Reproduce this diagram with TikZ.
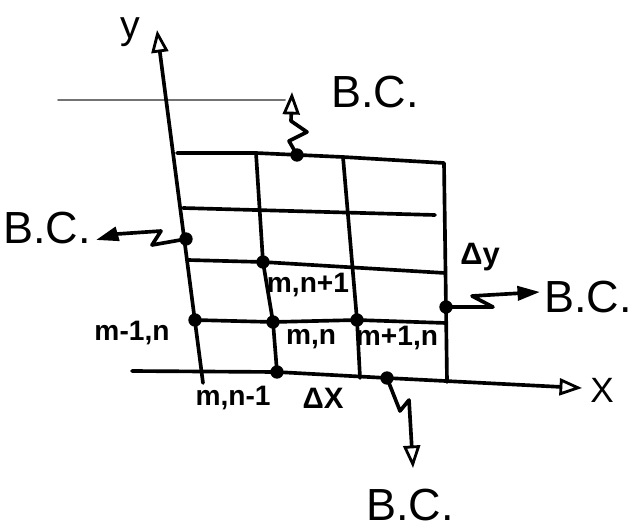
\documentclass[tikz,border=0pt]{standalone}
\usepackage{fontspec}
\setmainfont{Liberation Sans}
\usetikzlibrary{arrows.meta}

\begin{document}
\begin{tikzpicture}[x=0.025cm,y=-0.025cm,line width=2.6pt,line join=round,line cap=round,
    dot/.style={circle,fill=black,inner sep=0pt,minimum size=9.5pt},
    lbl/.style={font=\fontsize{20}{22}\selectfont\bfseries,inner sep=0pt},
    bc/.style={font=\fontsize{32}{34}\selectfont,inner sep=0pt},
    openhead/.style={-{Triangle[open,length=16pt,width=12pt,line width=2pt]}},
    fillhead/.style={-{Triangle[length=16pt,width=10pt]}}]
  \useasboundingbox (0,0) rectangle (635,531);
  % ruling of the sheet
  \draw[black!55,line width=1.4pt] (58,100) -- (285,100);
  % grid points
  \node[dot] (dmnp) at (263,262) {};
  \node[dot] (dmmn) at (195,320) {};
  \node[dot] (dmn) at (273,322) {};
  \node[dot] (dmpn) at (357,320) {};
  \node[dot] (dmnm) at (277,372) {};
  \node[dot] (dbot) at (387,378) {};
  \node[dot] (dleft) at (186,239) {};
  \node[dot] (dright) at (446,307) {};
  \node[dot] (dtop) at (297,155) {};
  % corners and free ends
  \coordinate (ytip) at (157,30);
  \coordinate (ybot) at (203,383);
  \coordinate (xbeg) at (132,371);
  \coordinate (xtip) at (582,388);
  \coordinate (t0) at (177,153);
  \coordinate (t1) at (256,153);
  \coordinate (t2) at (343,157);
  \coordinate (t3) at (444,163);
  \coordinate (b2) at (360,378);
  \coordinate (b3) at (447,382);
  \coordinate (ha) at (183,208);
  \coordinate (hb) at (435,215);
  \coordinate (hc) at (188,260);
  \coordinate (hd) at (445,273);
  \coordinate (he) at (446,323);
  \coordinate (toptip) at (292,92);
  \coordinate (lefttip) at (96,240);
  \coordinate (righttip) at (540,292);
  \coordinate (bottip) at (413,468);
  % axes
  \draw[openhead] (ybot) -- (ytip);
  \draw[openhead] (xbeg) -- (dmnm.center) -- (dbot.center) -- (xtip);
  % grid
  \draw (t0) -- (t1) -- (t2) -- (t3) -- (b3);
  \draw (t1) -- (dmnp.center) -- (dmn.center) -- (dmnm.center);
  \draw (t2) -- (dmpn.center) -- (b2);
  \draw (ha) -- (hb);
  \draw (hc) -- (dmnp.center) -- (hd);
  \draw (dmmn.center) -- (dmn.center) -- (dmpn.center) -- (he);
  % boundary conditions
  \draw[openhead] (dtop.center) -- (289,141) -- (307,132) -- (291,121) -- (toptip);
  \draw[fillhead] (dleft.center) -- (152,245) -- (161,231) -- (117,234) -- (lefttip);
  \draw[fillhead] (dright.center) -- (493,307) -- (472,296) -- (righttip);
  \draw[openhead] (dbot.center) -- (400,411) -- (409,400) -- (bottip);
  % labels
  \node[font=\fontsize{28}{30}\selectfont,inner sep=0pt] (ylab) at (130,32) {y};
  \node[font=\fontsize{25}{27}\selectfont,inner sep=0pt] (xlab) at (602,390) {X};
  \node[bc] (bctop) at (375,92) {B.C.};
  \node[bc] (bcleft) at (47,228) {B.C.};
  \node[bc] (bcright) at (588,297) {B.C.};
  \node[bc] (bcbot) at (410,505) {B.C.};
  \node[font=\fontsize{22}{24}\selectfont\bfseries,inner sep=0pt] (dy) at (480,257) {Δy};
  \node[font=\fontsize{21}{23}\selectfont\bfseries,inner sep=0pt] (dx) at (323,398) {ΔX};
  \node[lbl] (lmnp) at (308,285) {m,n+1};
  \node[lbl] (lmn) at (311,339) {m,n};
  \node[lbl] (lmpn) at (397,338) {m+1,n};
  \node[lbl] (lmmn) at (132,333) {m-1,n};
  \node[lbl] (lmnm) at (233,398) {m,n-1};
\end{tikzpicture}
\end{document}
